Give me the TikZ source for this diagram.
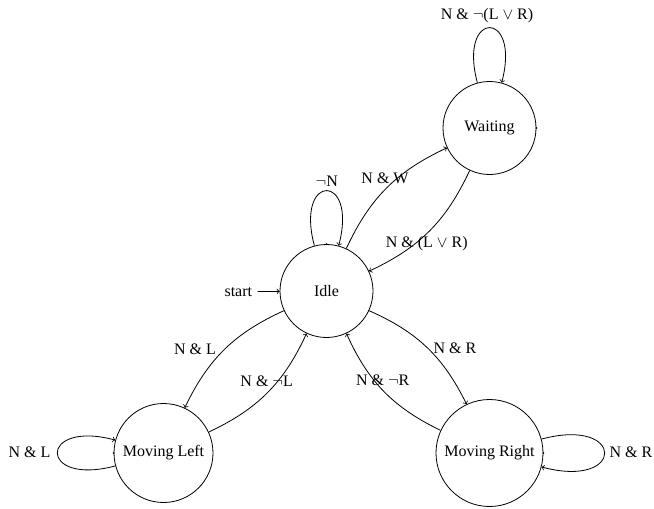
\documentclass[tikz,border=0pt]{standalone}
\usepackage{fontspec}
\setmainfont{Liberation Serif}
\begin{document}
\begin{tikzpicture}[x=0.75pt,y=0.75pt,
  every node/.style={font=\fontsize{12}{14}\selectfont},
  stnode/.style={draw,circle,inner sep=0pt,line width=0.6pt},
  trans/.style={->,line width=0.6pt},
  lbl/.style={inner sep=1pt},
  dotmark/.style={fill=black}]
\useasboundingbox (0,0) rectangle (654,-508);
% states
\node[stnode,minimum size=69.75pt] (idle) at (326.5,-291) {Idle};
\node[stnode,minimum size=69.75pt] (wait) at (489.5,-128) {Waiting};
\node[stnode,minimum size=74.25pt] (left) at (163.5,-453) {Moving Left};
\node[stnode,minimum size=80.25pt] (right) at (489.5,-453) {Moving Right};
% labels
\node[lbl,inner sep=4pt] (start) at (238.3,-291.7) {start};
\node[lbl] (lidle) at (326.7,-181.7) {$\neg$N};
\node[lbl] (lwait) at (487,-16) {N \& $\neg$(L $\vee$ R)};
\node[lbl] (liw) at (385,-178) {N \& W};
\node[lbl] (lwi) at (426.7,-244) {N \& (L $\vee$ R)};
\node[lbl] (lil) at (195,-349.3) {N \& L};
\node[lbl] (lli) at (266.7,-381.7) {N \& $\neg$L};
\node[lbl] (lir) at (455,-348.3) {N \& R};
\node[lbl] (lri) at (382.7,-380) {N \& $\neg$R};
\node[lbl] (lleft) at (29.5,-452) {N \& L};
\node[lbl] (lright) at (631,-452) {N \& R};
% start arrow
\draw[trans] (start) -- (idle);
% transitions
\draw[trans] (idle) to[bend left=20] (wait);
\draw[trans] (wait) to[bend left=20] (idle);
\draw[trans] (idle) to[bend right=20] (left);
\draw[trans] (left) to[bend right=20] (idle);
\draw[trans] (idle) to[bend left=20] (right);
\draw[trans] (right) to[bend left=20] (idle);
% loops
\draw[trans] (idle.105) .. controls +(105:76) and +(75:76) .. (idle.75);
\draw[trans] (wait.105) .. controls +(105:76) and +(75:76) .. (wait.75);
\draw[trans] (left.195) .. controls +(195:80) and +(165:80) .. (left.165);
\draw[trans] (right.15) .. controls +(15:87) and +(-15:87) .. (right.-15);
% small marks
\fill[dotmark] (idle.north) circle (1);
\fill[dotmark] (wait.east) circle (1);
\fill[dotmark] (left.west) circle (1);
\fill[dotmark] (right.east) circle (1);
\end{tikzpicture}
\end{document}
